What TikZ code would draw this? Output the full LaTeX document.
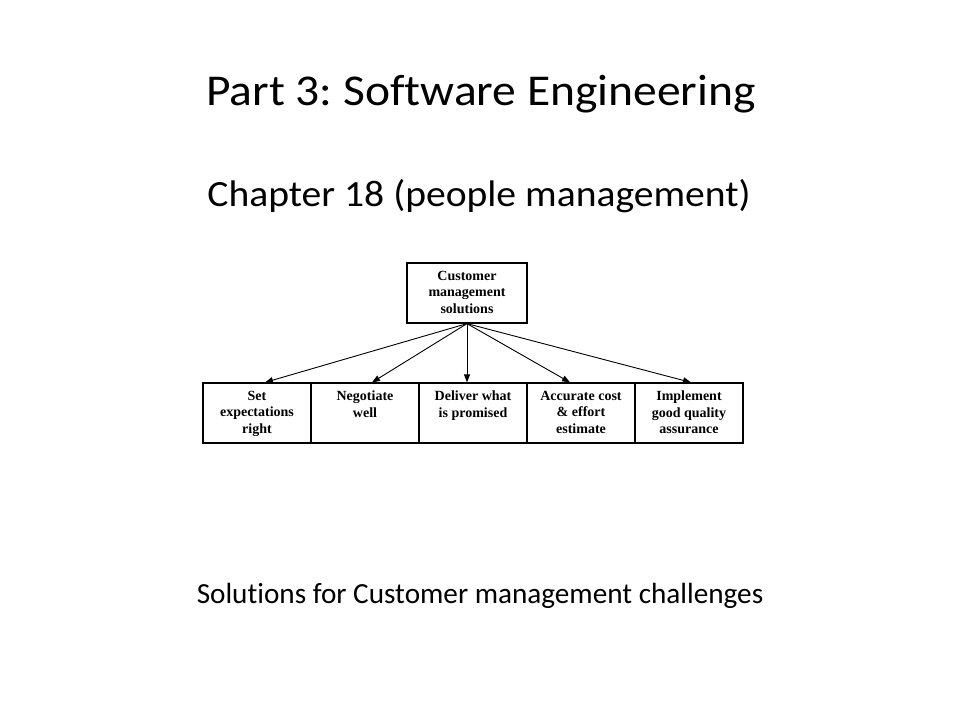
\documentclass[tikz,border=0pt]{standalone}
\usepackage{fontspec}
\setmainfont{Carlito}[Ligatures=CommonOff]
\newfontfamily\titlefont{Carlito}[Ligatures=CommonOff,FakeStretch=1.08]
\newfontfamily\subfont{Carlito}[Ligatures=CommonOff,FakeStretch=1.07]
\newfontfamily\boxfont{Liberation Serif}
\usetikzlibrary{arrows.meta}
\frenchspacing
\begin{document}
\begin{tikzpicture}[x=1pt,y=-1pt,
  titletext/.style={anchor=base, inner sep=0pt, font=\titlefont\fontsize{44}{50}\selectfont},
  subtext/.style={anchor=base, inner sep=0pt, font=\subfont\fontsize{37}{42}\selectfont},
  captext/.style={anchor=base, inner sep=0pt, font=\fontsize{29.2}{34}\selectfont},
  box/.style={draw, line width=1.2pt, minimum width=108pt, minimum height=60pt, inner sep=0pt},
  topbox/.style={box, minimum width=120pt},
  boxtext/.style={anchor=north, inner sep=0pt, align=center,
    font=\boxfont\bfseries\fontsize{14}{16.5}\selectfont},
  arr/.style={line width=0.9pt, -{Triangle[length=8pt,width=6pt]}}
]
\useasboundingbox (0,0) rectangle (960,720);
\fill[white] (0,0) rectangle (960,720);

\node[titletext] (title) at (481,105) {Part 3: Software Engineering};
\node[subtext] (chapter) at (479,206) {Chapter 18 (people management)};
\node[captext] (caption) at (480,603) {Solutions for Customer management challenges};

\node[topbox] (top) at (467,293) {};
\node[box] (b1) at (257,413) {};
\node[box] (b2) at (365,413) {};
\node[box] (b3) at (473,413) {};
\node[box] (b4) at (581,413) {};
\node[box] (b5) at (689,413) {};

\node[boxtext] (ttop) at (467,271) {Customer\\management\\solutions};
\node[boxtext] (t1) at (257,391) {Set\\expectations\\right};
\node[boxtext] (t2) at (365,391) {Negotiate\\well};
\node[boxtext] (t3) at (473,391) {Deliver what\\is promised};
\node[boxtext] (t4) at (581,391) {Accurate cost\\\& effort\\estimate};
\node[boxtext] (t5) at (689,391) {Implement\\good quality\\assurance};

\coordinate (src) at (top.south);
\draw[arr] (src) -- (b1.north -| 265,0);
\draw[arr] (src) -- (b2.north -| 372,0);
\draw[arr] (src) -- (b3.north -| src);
\draw[arr] (src) -- (b4.north -| 570,0);
\draw[arr] (src) -- (b5.north -| 691,0);
\end{tikzpicture}
\end{document}
